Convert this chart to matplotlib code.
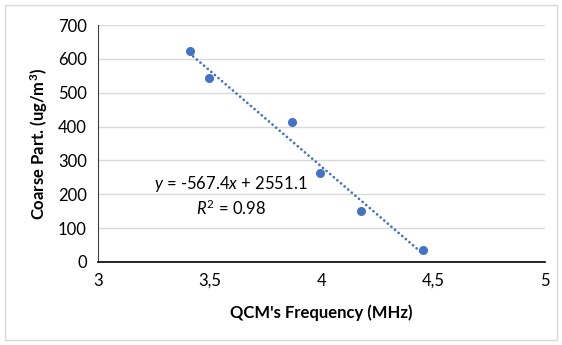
import matplotlib.pyplot as plt
from matplotlib.patches import Rectangle

# Data
freq = [3.41, 3.495, 3.867, 3.992, 4.175, 4.454]
coarse = [623, 543, 414, 262, 152, 36]
slope = -567.4
intercept = 2551.1
x_ticks = [3, 3.5, 4, 4.5, 5]
x_labels = ["3", "3,5", "4", "4,5", "5"]
y_ticks = [0, 100, 200, 300, 400, 500, 600, 700]

BLUE = "#4472C4"
plt.rcParams['font.family'] = ['Lato', 'DejaVu Sans']
plt.rcParams['mathtext.fontset'] = 'custom'
plt.rcParams['mathtext.rm'] = 'Lato'
plt.rcParams['mathtext.it'] = 'Lato:italic'
plt.rcParams['mathtext.bf'] = 'Lato:bold'

fig = plt.figure(figsize=(5.62, 3.45), dpi=100)
fig.patches.append(Rectangle((0.009, 0.015), 0.982, 0.97, transform=fig.transFigure,
                             fill=False, edgecolor="#d9d9d9", linewidth=1))
ax = fig.add_axes([0.1744, 0.2406, 0.7956, 0.6869])

# trendline over the data range
x0, x1 = min(freq), max(freq)
ax.plot([x0, x1], [slope * x0 + intercept, slope * x1 + intercept],
        color=BLUE, linestyle=(0, (0.01, 1.7)), linewidth=2.0, dash_capstyle='round', zorder=2)
ax.plot(freq, coarse, 'o', color=BLUE, markersize=5.5, zorder=3)

ax.text(3.595, 230, r"$\mathit{y}$ = -567.4$\mathit{x}$ + 2551.1", ha='center', va='center', fontsize=12)
ax.text(3.595, 160, r"$\mathit{R}^\mathrm{2}$ = 0.98", ha='center', va='center', fontsize=12)

ax.set_xlim(3, 5)
ax.set_ylim(0, 700)
ax.set_xticks(x_ticks)
ax.set_xticklabels(x_labels)
ax.set_yticks(y_ticks)
ax.tick_params(length=0, labelsize=12, colors="black", pad=8)
ax.grid(axis='y', color="#d9d9d9", linewidth=1)
ax.set_axisbelow(True)
for s in ['top', 'right']:
    ax.spines[s].set_visible(False)
ax.spines['left'].set_color("#404040")
ax.spines['bottom'].set_color("black")
ax.spines['bottom'].set_linewidth(1.2)

ax.set_xlabel("QCM's Frequency (MHz)", fontsize=12, fontweight='bold', labelpad=11)
ax.set_ylabel("Coarse Part. (ug/m$^\\mathbf{3}$)", fontsize=12, fontweight='bold', labelpad=6)

fig.savefig("out.png", dpi=100)
